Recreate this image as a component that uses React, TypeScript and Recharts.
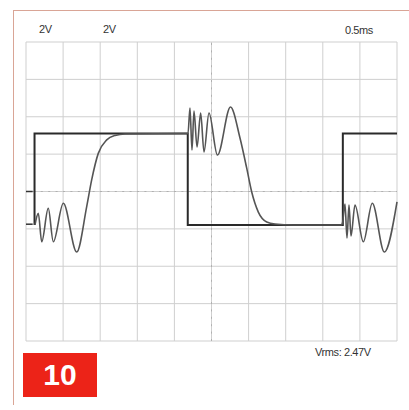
import React from "react";
import { LineChart, Line, XAxis, YAxis, CartesianGrid, ReferenceLine } from "recharts";

// time in ms (0.5 ms/div), volts (2 V/div)
const timeTicks = [0, 0.5, 1, 1.5, 2, 2.5, 3, 3.5, 4, 4.5, 5];
const voltTicks = [-8, -6, -4, -2, 0, 2, 4, 6, 8];

// channel 1: square wave
const squareT = [0.115, 0.115, 2.18, 2.18, 4.27, 4.27, 5.0];
const squareV = [-1.79, 3.1, 3.1, -1.79, -1.79, 3.1, 3.1];

// channel 2: ringing response
const ringT = [
  0.121, 0.166, 0.212, 0.3, 0.368, 0.503, 0.683, 0.818, 0.885, 0.974, 1.088, 1.2, 1.334, 2.17,
  2.183, 2.21, 2.237, 2.264, 2.305, 2.354, 2.399, 2.466, 2.58, 2.756, 2.884, 2.974, 3.042, 3.131,
  3.244, 3.356, 3.6, 4.25, 4.265, 4.299, 4.326, 4.353, 4.38, 4.434, 4.546, 4.667, 4.829, 5.0,
];
const ringV = [
  -1.79, -1.17, -2.69, -0.9, -2.69, -0.63, -3.24, -0.81, 0.62, 2.04, 2.76, 3.0, 3.08, 3.1,
  3.1, 4.47, 2.22, 4.31, 2.38, 4.2, 2.11, 4.2, 1.95, 4.52, 2.86, 1.26, -0.03, -1.1,
  -1.63, -1.74, -1.79, -1.79, -1.69, -0.67, -2.49, -0.72, -2.38, -0.72, -2.69, -0.63, -3.24, -0.55,
];

// ground markers at the left edge
const markerV = [0, -1.75];

const squareData = squareT.map((t, i) => ({ t, v: squareV[i] }));
const ringData = ringT.map((t, i) => ({ t, v: ringV[i] }));

const label: React.CSSProperties = {
  position: "absolute",
  fontFamily: "'Liberation Sans', Arial, sans-serif",
  fontSize: 11,
  color: "#333",
  letterSpacing: -0.4,
  lineHeight: "12px",
};

export default function App() {
  return (
    <div style={{ position: "absolute", left: 0, top: 0, width: 409, height: 410, background: "#fff" }}>
      <div
        style={{
          position: "absolute",
          left: 13,
          top: 10,
          width: 396,
          height: 394,
          borderLeft: "1.5px solid #d9a596",
          borderTop: "1.5px solid #d9a596",
        }}
      />
      <div style={{ ...label, left: 39, top: 23 }}>2V</div>
      <div style={{ ...label, left: 103, top: 23 }}>2V</div>
      <div style={{ ...label, left: 345, top: 24 }}>0.5ms</div>
      <div style={{ ...label, left: 315, top: 346 }}>Vrms: 2.47V</div>
      <div
        style={{
          position: "absolute",
          left: 23,
          top: 353,
          width: 74,
          height: 44,
          background: "#ec2318",
          color: "#fff",
          fontFamily: "Arial, 'Liberation Sans', sans-serif",
          fontWeight: "bold",
          fontSize: 30,
          lineHeight: "44px",
          textAlign: "center",
        }}
      >
        10
      </div>
      <div style={{ position: "absolute", left: 25, top: 41 }}>
        <LineChart width={373} height={301} margin={{ top: 1, right: 1, bottom: 1, left: 1 }}>
          <CartesianGrid stroke="#cfcfcf" strokeWidth={1} />
          <XAxis type="number" dataKey="t" domain={[0, 5]} ticks={timeTicks} hide />
          <YAxis type="number" dataKey="v" domain={[-8, 8]} ticks={voltTicks} hide />
          <ReferenceLine x={2.5} stroke="#b0b0b0" strokeDasharray="2 5.4" />
          <ReferenceLine y={0} stroke="#b0b0b0" strokeDasharray="2 5.4" />
          {markerV.map((m) => (
            <ReferenceLine
              key={m}
              segment={[
                { x: 0, y: m },
                { x: 0.09, y: m },
              ]}
              stroke="#333"
              strokeWidth={1.5}
            />
          ))}
          <Line
            data={squareData}
            dataKey="v"
            type="linear"
            stroke="#2a2a2a"
            strokeWidth={2}
            dot={false}
            isAnimationActive={false}
          />
          <Line
            data={ringData}
            dataKey="v"
            type="monotone"
            stroke="#555"
            strokeWidth={1.6}
            dot={false}
            isAnimationActive={false}
          />
        </LineChart>
      </div>
    </div>
  );
}
